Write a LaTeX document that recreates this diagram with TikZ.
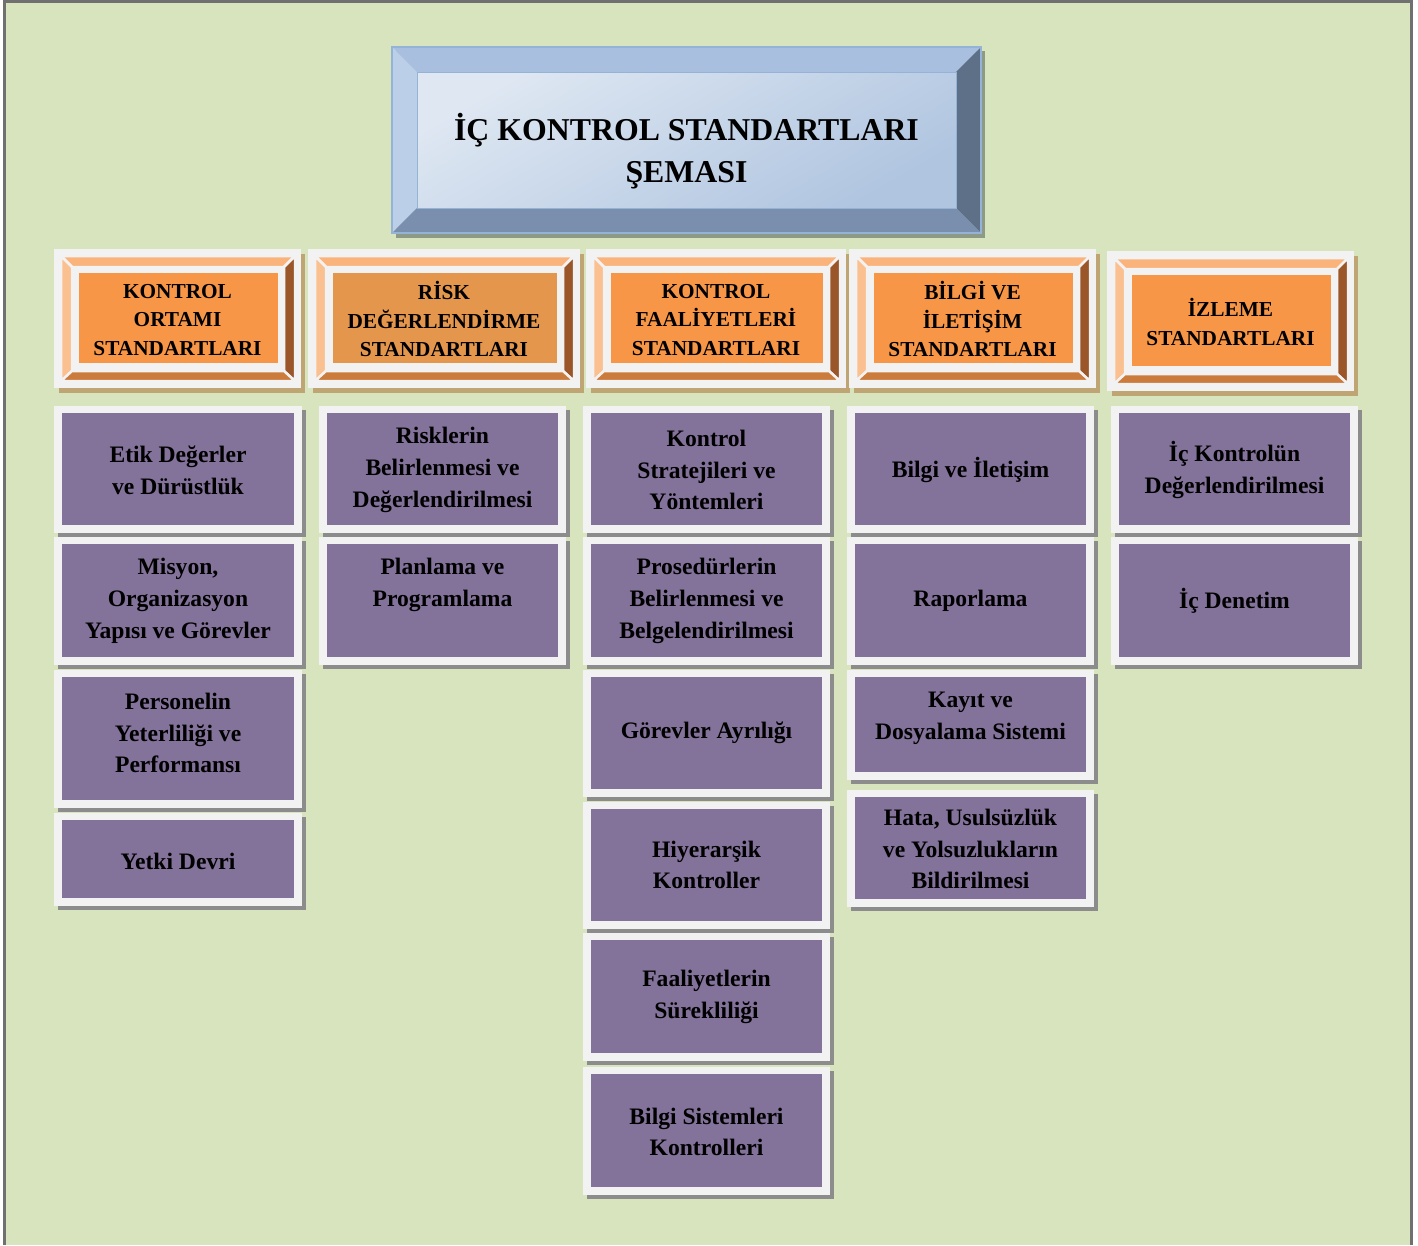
\documentclass[tikz,border=0pt]{standalone}
\usepackage{fontspec}
\setmainfont{Liberation Serif}
\definecolor{bggreen}{HTML}{D7E4BD}
\definecolor{framegray}{HTML}{707070}
\definecolor{boxwhite}{HTML}{F2F2F2}
\definecolor{purp}{HTML}{83729A}
\definecolor{pshadow}{HTML}{8C8C8C}
\definecolor{hshadow}{HTML}{BFA573}
\definecolor{hface}{HTML}{F79646}
\definecolor{hfacetwo}{HTML}{E4964C}
\definecolor{htop}{HTML}{FAB37A}
\definecolor{hleft}{HTML}{FBC08F}
\definecolor{hright}{HTML}{9A5628}
\definecolor{hbottom}{HTML}{CB7B3B}
\definecolor{ttop}{HTML}{A9BFDF}
\definecolor{tleft}{HTML}{BBCFE8}
\definecolor{tright}{HTML}{5E6F88}
\definecolor{tbottom}{HTML}{7A8FAE}
\definecolor{tborder}{HTML}{95B3D7}
\definecolor{tshadow}{HTML}{8E9A86}
\definecolor{tfacelight}{HTML}{DEE7F2}
\definecolor{tfacedark}{HTML}{B0C5E0}
\tikzset{
  ptext/.style={align=center, inner sep=0pt, text=black, font=\bfseries\fontsize{23.6}{31.7}\selectfont},
  htext/.style={align=center, inner sep=0pt, text=black, font=\bfseries\fontsize{21.3}{28.5}\selectfont},
  ttext/.style={align=center, inner sep=0pt, text=black, font=\bfseries\fontsize{31.8}{42}\selectfont},
  bevelband/.style={draw=boxwhite, line width=2.5pt, line join=miter},
}
% name, x1, y1, x2, y2, text y, text
\newcommand\mkpurp[7]{%
  \fill[pshadow] (#2+4,#3+4) rectangle (#4+4,#5+4);
  \fill[boxwhite] (#2,#3) rectangle (#4,#5);
  \fill[purp] (#2+8,#3+7) rectangle (#4-8,#5-8);
  \node[ptext] (#1) at ({(#2+#4)/2},#6+2) {#7};
}
% name, x1, y1, x2, y2, face colour, text y, text
\newcommand\mkhead[8]{%
  \fill[hshadow] (#2+5,#3+5) rectangle (#4+4,#5+5);
  \fill[boxwhite] (#2,#3) rectangle (#4,#5);
  \filldraw[bevelband, fill=htop] (#2+7,#3+7) -- (#4-6,#3+7) -- (#4-17,#3+18) -- (#2+18,#3+18) -- cycle;
  \filldraw[bevelband, fill=hleft] (#2+7,#3+7) -- (#2+18,#3+18) -- (#2+18,#5-17) -- (#2+7,#5-7) -- cycle;
  \filldraw[bevelband, fill=hright] (#4-6,#3+7) -- (#4-6,#5-7) -- (#4-17,#5-17) -- (#4-17,#3+18) -- cycle;
  \filldraw[bevelband, fill=hbottom] (#2+7,#5-7) -- (#4-6,#5-7) -- (#4-17,#5-17) -- (#2+18,#5-17) -- cycle;
  \fill[#6] (#2+25,#3+24) rectangle (#4-23,#5-25);
  \node[htext] (#1) at ({(#2+#4)/2},#7) {#8};
}
\begin{document}
\begin{tikzpicture}[x=1pt,y=-1pt]
\useasboundingbox (0,0) rectangle (1418,1245);
% page background and frame
\fill[bggreen] (4.5,1.5) rectangle (1411.5,1245);
\draw[framegray, line width=3pt] (4.5,1245) -- (4.5,1.5) -- (1411.5,1.5) -- (1411.5,1245);

% title box
\fill[tshadow] (396,51) rectangle (985,238);
\fill[ttop] (392,47) -- (981,47) -- (956,72) -- (417,72) -- cycle;
\fill[tleft] (392,47) -- (417,72) -- (417,208) -- (392,233) -- cycle;
\fill[tright] (981,47) -- (981,233) -- (956,208) -- (956,72) -- cycle;
\fill[tbottom] (392,233) -- (981,233) -- (956,208) -- (417,208) -- cycle;
\shade[top color=tfacelight, bottom color=tfacedark, shading angle=30] (417,72) rectangle (956,208);
\draw[tborder, line width=0.8pt] (417,72) rectangle (956,208);
\draw[tborder, line width=1.5pt] (392,47) rectangle (981,233);
\node[ttext] (title) at (686.5,151) {İÇ KONTROL STANDARTLARI\\ŞEMASI};

% header boxes
\mkhead{h1}{54}{249}{301}{388}{hface}{320}{KONTROL\\ORTAMI\\STANDARTLARI}
\mkhead{h2}{308}{249}{580}{388}{hfacetwo}{319}{RİSK\\DEĞERLENDİRME\\STANDARTLARI}
\mkhead{h3}{586}{249}{846}{388}{hface}{320}{KONTROL\\FAALİYETLERİ\\STANDARTLARI}
\mkhead{h4}{849}{249}{1096}{388}{hface}{319}{BİLGİ VE\\İLETİŞİM\\STANDARTLARI}
\mkhead{h5}{1107}{251}{1354}{391}{hface}{322}{İZLEME\\STANDARTLARI}

% column 1
\mkpurp{etik}{54}{406}{302}{533}{468}{Etik Değerler\\ve Dürüstlük}
\mkpurp{misyon}{54}{537}{302}{665}{599}{Misyon,\\Organizasyon\\Yapısı ve Görevler}
\mkpurp{personel}{54}{670}{302}{808}{731}{Personelin\\Yeterliliği ve\\Performansı}
\mkpurp{yetki}{54}{813}{302}{906}{859}{Yetki Devri}
% column 2
\mkpurp{riskler}{319}{406}{566}{533}{468}{Risklerin\\Belirlenmesi ve\\Değerlendirilmesi}
\mkpurp{planlama}{319}{537}{566}{665}{583}{Planlama ve\\Programlama}
% column 3
\mkpurp{strateji}{583}{406}{830}{533}{468}{Kontrol\\Stratejileri ve\\Yöntemleri}
\mkpurp{prosedur}{583}{537}{830}{665}{599}{Prosedürlerin\\Belirlenmesi ve\\Belgelendirilmesi}
\mkpurp{gorevler}{583}{670}{830}{797}{731}{Görevler Ayrılığı}
\mkpurp{hiyerarsik}{583}{802}{830}{929}{863}{Hiyerarşik\\Kontroller}
\mkpurp{faaliyet}{583}{933}{830}{1061}{995}{Faaliyetlerin\\Sürekliliği}
\mkpurp{bilgisis}{583}{1067}{830}{1195}{1130}{Bilgi Sistemleri\\Kontrolleri}
% column 4
\mkpurp{bilgiilet}{847}{406}{1094}{533}{468}{Bilgi ve İletişim}
\mkpurp{rapor}{847}{537}{1094}{665}{599}{Raporlama}
\mkpurp{kayit}{847}{670}{1094}{780}{716}{Kayıt ve\\Dosyalama Sistemi}
\mkpurp{hata}{847}{790}{1094}{907}{847}{\fontsize{23.6}{28}\selectfont Hata, Usulsüzlük\\ve Yolsuzlukların\\Bildirilmesi}
% column 5
\mkpurp{ickontrol}{1111}{406}{1358}{533}{468}{İç Kontrolün\\Değerlendirilmesi}
\mkpurp{icdenetim}{1111}{537}{1358}{665}{599}{İç Denetim}
\end{tikzpicture}
\end{document}
